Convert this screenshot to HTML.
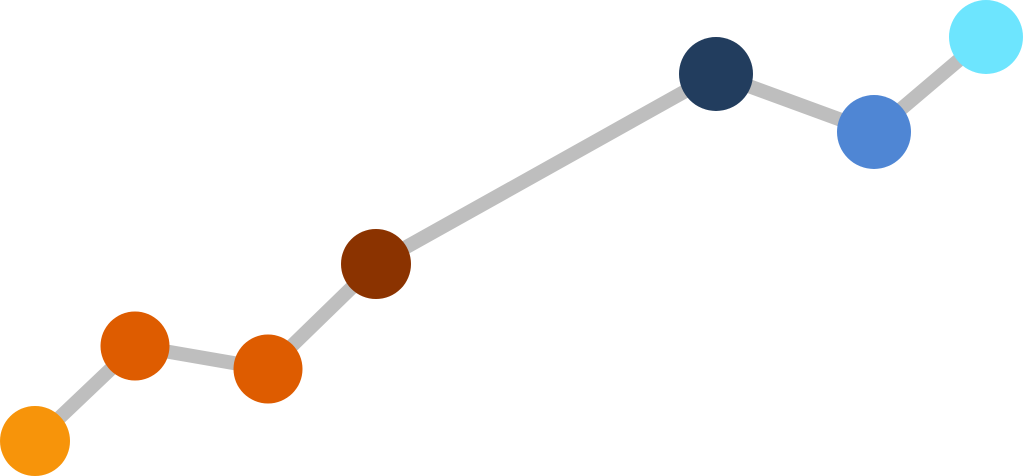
<!DOCTYPE html>
<html><head><meta charset="utf-8"><style>
html,body{margin:0;padding:0;background:#fff;}
svg{display:block;}
</style></head><body>
<svg width="1024" height="476" viewBox="0 0 1024 476" xmlns="http://www.w3.org/2000/svg">
<polyline points="35,441 135,346 268,369 376,264 716,74 874,132 986,37" fill="none" stroke="#BEBEBE" stroke-width="14" stroke-linejoin="round"/>
<circle cx="35" cy="441" r="35" fill="#F7940A"/>
<circle cx="135" cy="346" r="34.5" fill="#DE5C00"/>
<circle cx="268" cy="369" r="34.5" fill="#DE5C00"/>
<circle cx="376" cy="264" r="35" fill="#8B3300"/>
<circle cx="716" cy="74" r="37" fill="#223D5E"/>
<circle cx="874" cy="132" r="37" fill="#4F86D4"/>
<circle cx="986" cy="37" r="37" fill="#6DE5FE"/>
</svg>
</body></html>
